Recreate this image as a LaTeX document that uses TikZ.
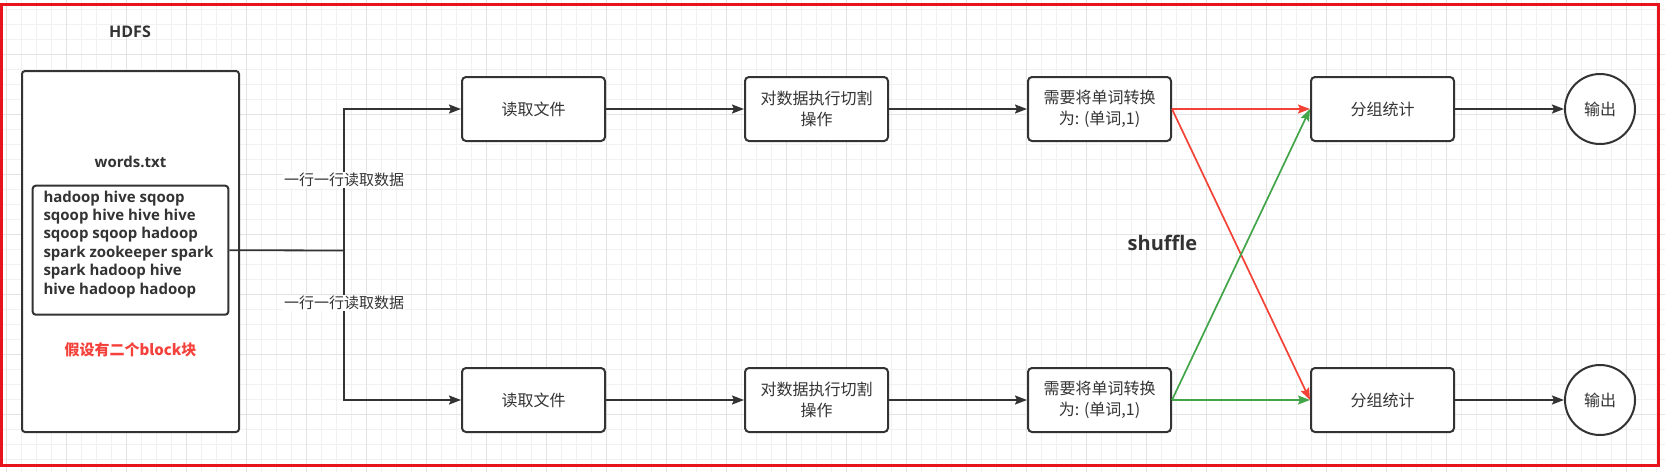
\documentclass[tikz,border=0pt]{standalone}
\usepackage{fontspec}
\setmainfont{Open Sans}
\newfontfamily\cjk{Noto Sans CJK SC}
\usetikzlibrary{arrows.meta}
\definecolor{ink}{HTML}{333333}
\definecolor{framered}{HTML}{E8141C}
\definecolor{redline}{HTML}{F44336}
\definecolor{greenline}{HTML}{43A549}
\definecolor{redtext}{HTML}{F5413B}
\definecolor{gminor}{HTML}{F1F1F1}
\definecolor{gmajor}{HTML}{E3E3E3}
\begin{document}
\begin{tikzpicture}[x=1pt,y=-1pt,
  box/.style={draw=ink, line width=2pt, rounded corners=4pt, fill=white,
    minimum width=143pt, minimum height=64pt, inner sep=0pt, align=center,
    text=ink, font=\cjk\fontsize{16}{20.5}\selectfont},
  outnode/.style={draw=ink, line width=2pt, circle, fill=white, minimum size=70pt,
    inner sep=0pt, text=ink, font=\cjk\fontsize{16}{20}\selectfont},
  tipstyle/.style={-{Stealth[length=12pt,width=9pt,inset=2pt]}},
  arr/.style={draw=ink, line width=1.8pt, tipstyle},
  redarr/.style={draw=redline, line width=1.7pt, tipstyle},
  greenarr/.style={draw=greenline, line width=1.7pt, tipstyle},
  edgelabel/.style={fill=white, inner sep=1pt, text=ink, font=\cjk\fontsize{15}{18}\selectfont},
  latinbold/.style={text=ink, font=\bfseries\fontsize{15}{18.4}\selectfont}
]
\useasboundingbox (0,0) rectangle (1665,472);
% background grid
\fill[white] (0,0) rectangle (1665,472);
\foreach \x in {6.7,21.7,...,1665} \draw[gminor, line width=1pt] (\x,0) -- (\x,472);
\foreach \y in {9,24,...,472} \draw[gminor, line width=1pt] (0,\y) -- (1665,\y);
\foreach \x in {6.7,66.7,...,1665} \draw[gmajor, line width=1pt] (\x,0) -- (\x,472);
\foreach \y in {54,114,...,472} \draw[gmajor, line width=1pt] (0,\y) -- (1665,\y);
% red frame
\draw[framered, line width=3pt] (1.3,4.2) rectangle (1658.5,465);

% HDFS block
\node[latinbold, font=\bfseries\fontsize{16}{19}\selectfont] (hdfs) at (130,32) {HDFS};
\node[draw=ink, line width=2pt, rounded corners=3pt, fill=white,
      minimum width=217pt, minimum height=361pt, inner sep=0pt] (hdfsbox) at (130.5,251.5) {};
\node[latinbold] (words) at (130.5,162) {words.txt};
\node[draw=ink, line width=2pt, rounded corners=3pt, fill=white,
      minimum width=195.6pt, minimum height=129pt, inner sep=0pt] (blk) at (130.5,250.2) {};
\node[latinbold, anchor=north west, align=left, inner sep=0pt] (lines) at (43.3,190.5)
  {hadoop hive sqoop\\sqoop hive hive hive\\sqoop sqoop hadoop\\spark zookeeper spark\\spark hadoop hive\\hive hadoop hadoop};
\node[text=redtext, font=\cjk\bfseries\fontsize{15}{18}\selectfont] (note) at (130.5,350) {假设有二个block块};

% process boxes
\node[box] (r1a) at (533.5,109) {读取文件};
\node[box] (r2a) at (816.5,109) {对数据执行切割\\操作};
\node[box] (r3a) at (1099.5,109) {需要将单词转换\\为: (单词,1)};
\node[box] (r4a) at (1382.5,109) {分组统计};
\node[outnode] (oa) at (1600,109) {输出};

\node[box] (r1b) at (533.5,400) {读取文件};
\node[box] (r2b) at (816.5,400) {对数据执行切割\\操作};
\node[box] (r3b) at (1099.5,400) {需要将单词转换\\为: (单词,1)};
\node[box] (r4b) at (1382.5,400) {分组统计};
\node[outnode] (ob) at (1600,400) {输出};

\node[text=ink, font=\bfseries\fontsize{20}{24}\selectfont] (shuffle) at (1162.5,243) {shuffle};

% connectors
\coordinate (j) at (344,250.5);
\draw[ink, line width=1.8pt] (blk.east) -- (j);
\draw[arr] (j) |- node[edgelabel, pos=0.25] {一行一行读取数据} (r1a.west);
\draw[arr] (j) |- node[edgelabel, pos=0.175] {一行一行读取数据} (r1b.west);

\draw[arr] (r1a) -- (r2a);
\draw[arr] (r2a) -- (r3a);
\draw[arr] (r1b) -- (r2b);
\draw[arr] (r2b) -- (r3b);
\draw[arr] (r4a) -- (oa);
\draw[arr] (r4b) -- (ob);

\draw[redarr] (r3a.east) -- (r4a.west);
\draw[redarr] (r3a.east) -- (r4b.west);
\draw[greenarr] (r3b.east) -- (r4a.west);
\draw[greenarr] (r3b.east) -- (r4b.west);
\end{tikzpicture}
\end{document}
